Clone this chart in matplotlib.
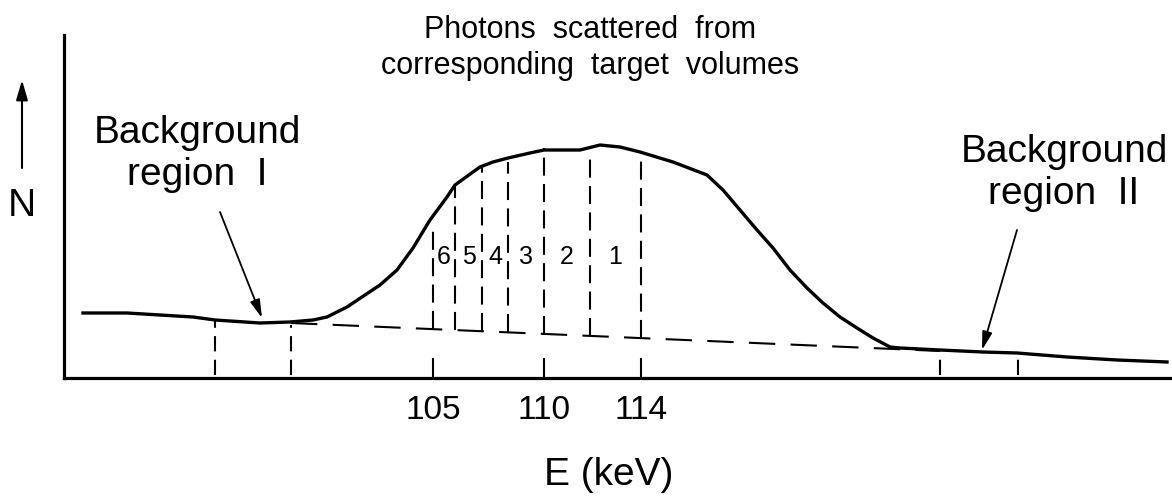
import numpy as np
import matplotlib
matplotlib.use("Agg")
import matplotlib.pyplot as plt

plt.rcParams['font.family'] = ['Liberation Sans', 'DejaVu Sans']
plt.rcParams['lines.scale_dashes'] = False

# spectrum (channel, counts)
channel = [19, 63, 129, 151, 196, 226, 249, 263, 283, 316, 333, 349, 366, 383, 391,
           409, 416, 429, 444, 466, 480, 496, 516, 536, 556, 576, 609, 643, 659, 676,
           693, 709, 726, 743, 759, 776, 793, 809, 826, 836, 876, 919, 953, 1003, 1053, 1103]
counts = [65, 65, 61, 58, 55, 56, 58, 61, 71, 93, 108, 130, 158, 181, 193,
          206, 211, 216, 220, 225, 228, 228, 228, 233, 231, 226, 216, 203, 188, 168,
          148, 130, 108, 90, 75, 61, 50, 40, 31, 30, 28, 26, 25, 21, 18, 16]

# linear background under the peak
bg_channel = [227, 876]
bg_counts = [55, 27]

# boundaries of the target volume windows and where they meet the spectrum
window_edges = [369, 391, 418, 444, 480, 526, 577]
window_tops = [151, 193, 211, 216, 230, 226, 226]
window_names = ['6', '5', '4', '3', '2', '1']

# background windows
region_edges = [151, 227, 876, 954]
region_tops = [58, 53, 23, 23]

tick_channels = [369, 480, 577]
tick_labels = ['105', '110', '114']

fig = plt.figure(figsize=(11.72, 4.98), dpi=100)
ax = fig.add_axes([64/1172, 120/498, 1106/1172, 343/498])
ax.set_xlim(0, 1106)
ax.set_ylim(0, 343)

ax.plot(channel, counts, color='black', lw=2.4, solid_joinstyle='round')
ax.plot(bg_channel, bg_counts, color='black', lw=1.5, linestyle=(0, (19, 11)))

bottoms = np.interp(window_edges, bg_channel, bg_counts)
ax.vlines(window_edges, bottoms, window_tops, color='black', lw=1.5,
          linestyles=[(0, (13, 6))])
mids = [(a + b) / 2 for a, b in zip(window_edges[:-1], window_edges[1:])]
for m, name in zip(mids, window_names):
    ax.text(m, 121, name, fontsize=18, ha='center', va='center')

ax.vlines(region_edges, 3, region_tops, color='black', lw=1.5,
          linestyles=[(0, (11, 6))])

for s in ['top', 'right']:
    ax.spines[s].set_visible(False)
for s in ['left', 'bottom']:
    ax.spines[s].set_linewidth(2.3)

ax.set_yticks([])
ax.set_xticks(tick_channels)
ax.set_xticklabels(tick_labels, fontsize=24)
ax.tick_params(axis='x', direction='in', length=14.5, width=1.5, pad=12)

ax.set_xlabel('E (keV)', fontsize=28)
ax.xaxis.label.set_va('center')
ax.xaxis.set_label_coords((609 - 64) / 1106, -97 / 343)

ax.text(526, 330, 'Photons  scattered  from\ncorresponding  target  volumes',
        fontsize=22, ha='center', va='center', linespacing=1.25, clip_on=False)

ax.text(133, 224, 'Background\nregion  I', fontsize=28, ha='center', va='center',
        linespacing=1.22)
ax.annotate('', xy=(198, 60), xytext=(156, 166),
            arrowprops=dict(arrowstyle='-|>,head_length=1.1,head_width=0.3',
                            color='black', lw=1.3, shrinkA=0, shrinkB=0))

ax.text(1000, 205, 'Background\nregion  II', fontsize=28, ha='center', va='center',
        linespacing=1.22, clip_on=False)
ax.annotate('', xy=(918, 28), xytext=(953, 148),
            arrowprops=dict(arrowstyle='-|>,head_length=1.1,head_width=0.3',
                            color='black', lw=1.3, shrinkA=0, shrinkB=0))

# y axis hint: arrow and N
fig.text(22/1172, 1 - 206/498, 'N', fontsize=28, ha='center', va='center')
ax.annotate('', xy=(22/1172, 1 - 80/498), xytext=(22/1172, 1 - 168/498),
            xycoords='figure fraction', textcoords='figure fraction',
            arrowprops=dict(arrowstyle='-|>,head_length=1.2,head_width=0.35',
                            color='black', lw=1.5, shrinkA=0, shrinkB=0))

fig.savefig('out.png', dpi=100)
